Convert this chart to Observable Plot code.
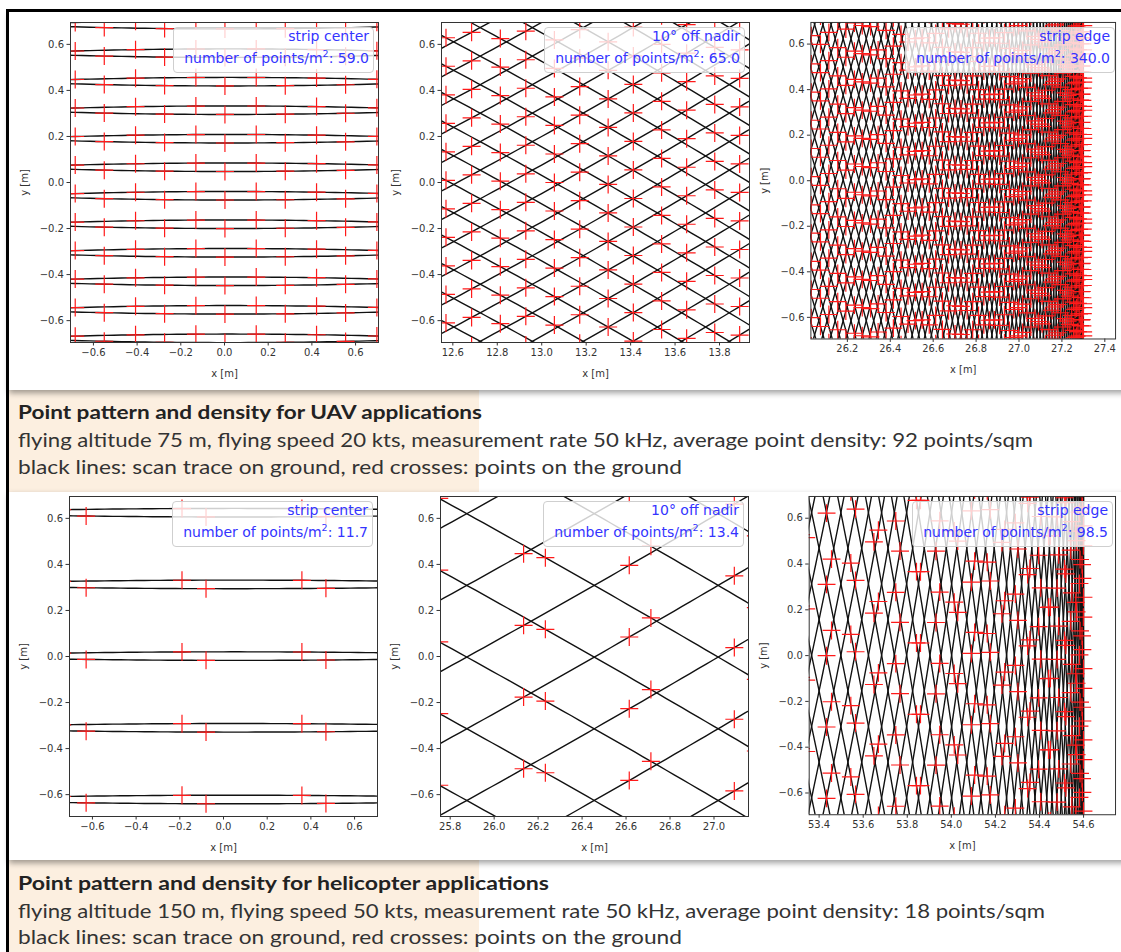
<!DOCTYPE html>
<html><head><meta charset="utf-8">
<script src="https://cdn.jsdelivr.net/npm/d3@7"></script>
<script src="https://cdn.jsdelivr.net/npm/@observablehq/plot@0.6"></script>
<style>
html,body{margin:0;padding:0;background:#fff;}
body{width:1121px;height:952px;overflow:hidden;position:relative;}
.abs{position:absolute;}
#border{left:6px;top:9px;width:1200px;height:1000px;border-left:3px solid #000;border-top:3px solid #000;}
.figbox{position:absolute;left:9px;width:1200px;background:#fff;box-shadow:0 3px 6px rgba(0,0,0,0.38);}
.capbox{position:absolute;left:9px;width:470px;background:#fcefe0;}
.capline{position:absolute;left:18px;white-space:nowrap;font-family:Lato,"Open Sans",sans-serif;font-size:19px;line-height:24px;color:#333;transform-origin:0 50%;}
.capline.title{font-weight:700;color:#222;}
.panel{position:absolute;}
.legend{position:absolute;box-sizing:border-box;border:1px solid #cfcfcf;border-radius:4px;background:rgba(255,255,255,0.8);
  font-family:"DejaVu Sans",sans-serif;font-size:14px;line-height:21.5px;color:#3434ff;text-align:right;padding:0 4px 3px 10px;white-space:nowrap;}
.legend sup{font-size:9.5px;line-height:0;vertical-align:6px;}
</style></head>
<body>
<div id="border" class="abs"></div>
<div class="capbox" style="top:390px;height:102px"></div>
<div class="capbox" style="top:860px;height:100px"></div>
<div class="figbox" style="top:12px;height:378px"></div>
<div class="figbox" style="top:492px;height:368px"></div>
<div id="root"></div>
<script>
// ---------------- data ----------------
const applications = ["UAV", "helicopter"];
const scanRadius = [27.3, 54.6];                 // m, across-track ground radius of the scan = strip half width
const alongTrackRadius = [27.1142, 53.8214];     // m, along-track ground radius of the scan
const advancePerRotation = [0.123866, 0.311449];  // m, y shift of the scan trace per mirror rotation
const pointsPerRotation = [621, 625];            // laser shots per rotation

const panelApp = [0, 0, 0, 1, 1, 1];
const panelTitles = ["strip center", "10° off nadir", "strip edge", "strip center", "10° off nadir", "strip edge"];
const pointDensities = ["59.0", "65.0", "340.0", "11.7", "13.4", "98.5"];
const xDomains = [[-0.705, 0.705], [12.549, 13.935], [26.03, 27.45], [-0.705, 0.705], [25.756, 27.157], [53.355, 54.745]];
const yDomain = [-0.695, 0.695];
const xTicks = [
  [-0.6, -0.4, -0.2, 0, 0.2, 0.4, 0.6],
  [12.6, 12.8, 13.0, 13.2, 13.4, 13.6, 13.8],
  [26.2, 26.4, 26.6, 26.8, 27.0, 27.2, 27.4],
  [-0.6, -0.4, -0.2, 0, 0.2, 0.4, 0.6],
  [25.8, 26.0, 26.2, 26.4, 26.6, 26.8, 27.0],
  [53.4, 53.6, 53.8, 54.0, 54.2, 54.4, 54.6]
];
const yTicks = [-0.6, -0.4, -0.2, 0, 0.2, 0.4, 0.6];
// a forward-looking scan trace passes through (traceRefX, traceRefY)
const traceRefX = [0, 13.057, 0, 0, 26.233, 0];
const traceRefY = [0.2087, 0.0, 0.2087, 0.0203, 0.118, 0.0203];
// x of a column of points on the forward (frontCrossX) and backward (backCrossX) traces
const frontCrossX = [-0.131, 13.057, -0.131, -0.19, 26.233, -0.19];
const backCrossX = [0.002, 13.171, 0.002, -0.08, 26.134, -0.08];

const captionTitles = ["Point pattern and density for UAV applications", "Point pattern and density for helicopter applications"];
const captionLines = [
  ["flying altitude 75 m, flying speed 20 kts, measurement rate 50 kHz, average point density: 92 points/sqm",
   "black lines: scan trace on ground, red crosses: points on the ground"],
  ["flying altitude 150 m, flying speed 50 kts, measurement rate 50 kHz, average point density: 18 points/sqm",
   "black lines: scan trace on ground, red crosses: points on the ground"]
];

// ---------------- layout ----------------
const frameLeft = [70, 441, 811, 69, 440, 809];
const frameTop = [22, 22, 22, 496, 496, 496];
const frameW = 308, frameH = 320;
const ML = 56, MR = 6, MT = 4, MB = 42;

// ---------------- geometry of the scan ----------------
const TAU = 2 * Math.PI;
function scanData(i) {
  const a = panelApp[i], R = scanRadius[a], Ry = alongTrackRadius[a], vT = advancePerRotation[a], N = pointsPerRotation[a];
  const [x0, x1] = xDomains[i];
  const ylo = yDomain[0] - 0.07, yhi = yDomain[1] + 0.07;
  const base = th => Ry * Math.cos(th) - Ry + vT * th / TAU;
  const F = traceRefY[i] - base(Math.asin(traceRefX[i] / R));
  const c = th => base(th) + F;
  const lo = Math.asin(Math.max(-1, Math.min(1, (x0 - 0.02) / R)));
  const hiX = (x1 + 0.02) / R;
  const edge = hiX >= 1;
  const branches = edge ? [[lo, Math.PI - lo]] : [[lo, Math.asin(hiX)], [Math.PI - Math.asin(hiX), Math.PI - lo]];
  const lines = [];
  let id = 0;
  const M = edge ? 900 : 40;
  for (const [ta, tb] of branches) {
    const th = d3.range(M + 1).map(j => ta + (tb - ta) * j / M);
    const cs = th.map(c);
    const cmin = d3.min(cs), cmax = d3.max(cs);
    for (let k = Math.ceil((ylo - cmax) / vT); k <= Math.floor((yhi - cmin) / vT); k++) {
      let first = -1, last = -1;
      for (let j = 0; j <= M; j++) {
        const y = cs[j] + vT * k;
        if (y >= ylo && y <= yhi) { if (first < 0) first = j; last = j; }
      }
      if (first < 0) continue;
      first = Math.max(0, first - 1); last = Math.min(M, last + 1);
      for (let j = first; j <= last; j++) lines.push({id, x: R * Math.sin(th[j]), y: cs[j] + vT * k});
      id++;
    }
  }
  const frac = v => v - Math.floor(v);
  const pF = frac(N / TAU * Math.asin(frontCrossX[i] / R));
  const pB = frac(N / TAU * (Math.PI - Math.asin(backCrossX[i] / R)));
  const pts = [];
  for (const [p, tA, tB] of [[pF, -Math.PI / 2, Math.PI / 2], [pB, Math.PI / 2, 1.5 * Math.PI]]) {
    const m0 = Math.ceil(tA * N / TAU - p), m1 = Math.floor(tB * N / TAU - p - 1e-9);
    for (let m = m0; m <= m1; m++) {
      const th = TAU * (m + p) / N;
      const x = R * Math.sin(th);
      if (x < x0 - 0.05 || x > x1 + 0.05) continue;
      const cc = c(th);
      for (let k = Math.ceil((ylo - cc) / vT); k <= Math.floor((yhi - cc) / vT); k++) pts.push({x, y: cc + vT * k});
    }
  }
  return {lines, pts};
}

const plusSymbol = {
  draw(context) {
    const r = 9;
    context.moveTo(-r, 0); context.lineTo(r, 0);
    context.moveTo(0, -r); context.lineTo(0, r);
  }
};

const root = document.getElementById("root");
const fmt = d3.format(".1f");
for (let i = 0; i < 6; i++) {
  const {lines, pts} = scanData(i);
  const chart = Plot.plot({
    width: ML + frameW + MR, height: MT + frameH + MB,
    marginLeft: ML, marginRight: MR, marginTop: MT, marginBottom: MB,
    x: {domain: xDomains[i], ticks: xTicks[i], tickFormat: fmt, label: "x [m]", labelAnchor: "center", labelOffset: 34, tickSize: 3.5, tickPadding: 3, labelArrow: false},
    y: {domain: yDomain, ticks: yTicks, tickFormat: fmt, label: "y [m]", labelAnchor: "center", labelOffset: 50, tickSize: 3.5, tickPadding: 3, labelArrow: false},
    style: {fontFamily: "DejaVu Sans", fontSize: "10px", color: "#333", background: "transparent", overflow: "visible"},
    marks: [
      Plot.line(lines, {x: "x", y: "y", z: "id", stroke: "#111", strokeWidth: 1.4, clip: true}),
      Plot.dot(pts, {x: "x", y: "y", symbol: plusSymbol, stroke: "#ff1a1a", fill: "none", strokeWidth: 1.2, clip: true}),
      Plot.frame({stroke: "#333"})
    ]
  });
  const wrap = document.createElement("div");
  wrap.className = "panel";
  wrap.style.left = (frameLeft[i] - ML) + "px";
  wrap.style.top = (frameTop[i] - MT) + "px";
  wrap.appendChild(chart);
  root.appendChild(wrap);

  const lg = document.createElement("div");
  lg.className = "legend";
  lg.innerHTML = `<div style="position:relative;top:-2px">${panelTitles[i]}<br>number of points/m<sup>2</sup>: ${pointDensities[i]}</div>`;
  root.appendChild(lg);
  lg.style.top = (frameTop[i] + 5) + "px";
  lg.style.height = "46px";
  const w = lg.getBoundingClientRect().width;
  lg.style.left = (frameLeft[i] + frameW - 4 - w) + "px";
}

// captions
const capTops = [[412, 440, 467], [883, 911, 937]];
const capWidths = [[464, 1015, 664], [531, 1027, 664]];
for (let c = 0; c < 2; c++) {
  const texts = [captionTitles[c], ...captionLines[c]];
  texts.forEach((t, j) => {
    const d = document.createElement("div");
    d.className = "capline" + (j === 0 ? " title" : "");
    d.textContent = t;
    d.style.top = (capTops[c][j] - 12) + "px";
    root.appendChild(d);
    const w = d.getBoundingClientRect().width;
    d.style.transform = `scaleX(${capWidths[c][j] / w})`;
  });
}
</script>
</body></html>
